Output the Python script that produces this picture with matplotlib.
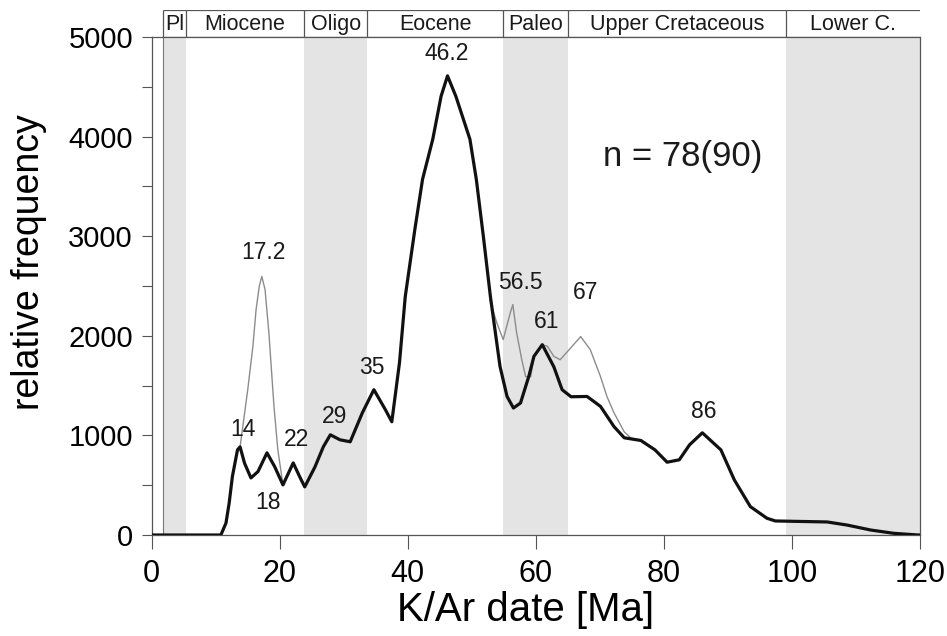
import matplotlib
matplotlib.use('Agg')
import matplotlib.pyplot as plt
from matplotlib import font_manager
from matplotlib.ticker import MultipleLocator

# thick curve (n = 78)
black_age = [0, 10.8, 11.6, 12.1, 12.6, 13.4, 13.8, 14.5, 15.5, 16.6, 18.0, 19.2, 20.5,
             22.1, 23.1, 23.9, 25.5, 26.8, 27.9, 29.4, 31.0, 32.9, 34.7, 36.5, 37.5,
             38.7, 39.6, 41.1, 42.3, 43.9, 45.2, 46.2, 47.5, 49.7, 50.7, 51.8, 52.9,
             54.4, 55.5, 56.5, 57.6, 58.9, 59.7, 61.0, 62.8, 64.1, 65.5, 68.0, 70.1,
             72.2, 73.8, 76.4, 78.6, 80.5, 82.4, 84.0, 86.0, 88.9, 91.0, 93.5, 96.1,
             97.4, 105.5, 108.6, 112.3, 115.9, 119.7, 120]
black_val = [0, 0, 120, 322, 587, 855, 885, 721, 573, 637, 825, 687, 503,
             724, 587, 483, 684, 885, 1006, 956, 936, 1227, 1459, 1258, 1137,
             1730, 2394, 3068, 3571, 3974, 4406, 4610, 4406, 3974, 3571, 2998, 2394,
             1693, 1391, 1275, 1325, 1593, 1794, 1911, 1690, 1459, 1388, 1391, 1291,
             1089, 976, 949, 855, 731, 755, 905, 1026, 855, 553, 285, 168,
             141, 131, 100, 50, 17, 0, 0]

# thin curve (n = 90), only where it leaves the thick one
grayA_age = [13.8, 15.0, 15.8, 16.3, 16.8, 17.2, 17.7, 18.3, 19.1, 19.7, 20.5]
grayA_val = [885, 1459, 1891, 2263, 2498, 2596, 2465, 2032, 1288, 855, 503]
grayB_age = [52.8, 53.9, 54.9, 56.0, 56.4, 57.0, 57.8, 58.4, 59.2, 59.7]
grayB_val = [2364, 2130, 1962, 2230, 2314, 2029, 1760, 1590, 1590, 1794]
grayC_age = [61.0, 61.8, 62.8, 63.8, 65.2, 67.0, 68.5, 70.1, 71.1, 72.2, 73.8, 74.8, 76.4]
grayC_val = [1911, 1895, 1794, 1760, 1861, 1992, 1861, 1590, 1391, 1227, 1036, 976, 949]

# peak labels
peak_text = ['17.2', '14', '18', '22', '29', '35', '46.2', '56.5', '61', '67', '86']
peak_x = [17.4, 14.2, 18.2, 22.6, 28.6, 34.4, 46.0, 57.6, 61.7, 67.8, 86.2]
peak_y = [2837, 1056, 322, 956, 1187, 1680, 4830, 2535, 2140, 2435, 1237]

# epochs (Ma)
epoch_names = ['Pl', 'Miocene', 'Oligo', 'Eocene', 'Paleo', 'Upper Cretaceous', 'Lower C.']
epoch_start = [1.8, 5.3, 23.8, 33.7, 54.8, 65.0, 99.0]
epoch_end = [5.3, 23.8, 33.7, 54.8, 65.0, 99.0, 120.0]
epoch_shaded = [True, False, True, False, True, False, True]

plt.rcParams['font.family'] = ['Liberation Sans', 'DejaVu Sans']

# x axis text is condensed in the original
names = {f.name for f in font_manager.fontManager.ttflist}
if 'Liberation Sans Narrow' in names:
    xfont = 'Liberation Sans Narrow'
    xtick_size, xlab_size = 24, 34
else:
    xfont = 'Liberation Sans'
    xtick_size, xlab_size = 22, 29

fig = plt.figure(figsize=(9.47, 6.36), dpi=100)
ax = fig.add_axes([0.1602, 0.1588, 0.8113, 0.783])
hax = fig.add_axes([0.1602, 0.9418, 0.8113, 0.0425])

for s, e, sh in zip(epoch_start, epoch_end, epoch_shaded):
    if sh:
        ax.axvspan(s, e, color='#e4e4e4', lw=0, zorder=0)
ax.axvline(epoch_start[0], color='#777777', lw=0.8, zorder=1)

ax.plot(grayA_age, grayA_val, color='#8c8c8c', lw=1.0, zorder=2)
ax.plot(grayB_age, grayB_val, color='#8c8c8c', lw=1.0, zorder=2)
ax.plot(grayC_age, grayC_val, color='#8c8c8c', lw=1.0, zorder=2)
ax.plot(black_age, black_val, color='#111111', lw=2.3, zorder=3,
        solid_joinstyle='round')

for t, x, y in zip(peak_text, peak_x, peak_y):
    ax.text(x, y, t, ha='center', va='center', fontsize=16.5, color='#1a1a1a')

ax.text(83.0, 3800, 'n = 78(90)', ha='center', va='center', fontsize=25,
        color='#1a1a1a')

ax.set_xlim(0, 120)
ax.set_ylim(0, 5000)
ax.xaxis.set_major_locator(MultipleLocator(20))
ax.yaxis.set_major_locator(MultipleLocator(1000))
ax.yaxis.set_minor_locator(MultipleLocator(500))
ax.tick_params(axis='y', which='both', direction='out', length=7.5, width=0.8,
               color='#555555', labelsize=21, pad=6)
ax.tick_params(axis='x', which='major', direction='out', length=10, width=0.8,
               color='#555555', pad=7)
for lab in ax.get_xticklabels():
    lab.set_fontsize(xtick_size)
    lab.set_family(xfont)
for sp in ax.spines.values():
    sp.set_color('#555555')
    sp.set_linewidth(0.9)

ax.set_ylabel('relative frequency', fontsize=27)
ax.yaxis.set_label_coords(-0.136, 0.548)
ax.set_xlabel('K/Ar date [Ma]', fontsize=xlab_size, family=xfont)
ax.xaxis.set_label_coords(0.487, -0.112)

# epoch header box
hax.set_xlim(0, 120)
hax.set_ylim(0, 1)
hax.axis('off')
hax.hlines([0, 1], epoch_start[0], epoch_end[-1], color='#555555', lw=0.9)
hax.vlines(epoch_start, 0, 1, color='#555555', lw=0.9)
for n, s, e in zip(epoch_names, epoch_start, epoch_end):
    hax.text((s + e) / 2, 0.45, n, ha='center', va='center', fontsize=15.5,
             color='#1a1a1a')

fig.savefig('out.png', dpi=100)
